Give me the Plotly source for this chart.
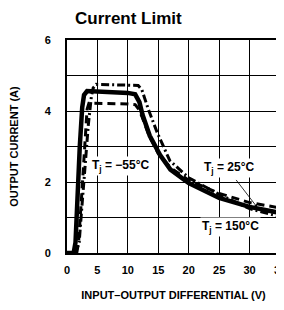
import plotly.graph_objects as go

# Tj curves (V, A)
solid_x = [0, 1.1, 1.4, 1.7, 2.1, 2.5, 2.8, 3.3, 5, 8, 10, 11.2, 11.9, 12.4, 13.6, 15.3, 17, 20, 25, 30, 35]
solid_y = [0, 0, 0.3, 1.6, 3.0, 4.1, 4.45, 4.56, 4.55, 4.53, 4.51, 4.47, 4.25, 3.9, 3.3, 2.76, 2.35, 1.97, 1.55, 1.3, 1.13]

dash_x = [1.6, 1.9, 2.4, 2.9, 3.3, 3.6, 5, 8, 10, 11.2, 11.8, 12.3, 13.5, 15, 17, 20, 25, 30, 35]
dash_y = [0, 0.3, 1.6, 3.1, 4.05, 4.22, 4.22, 4.21, 4.2, 4.18, 4.05, 3.85, 3.3, 2.8, 2.4, 2.05, 1.68, 1.42, 1.27]

dashdot_x = [1.4, 2.0, 2.4, 2.9, 3.5, 4.0, 4.3, 4.8, 8, 10, 11.7, 12.3, 12.8, 13.3, 14.8, 16.9, 20, 25, 30, 35]
dashdot_y = [0, 0.3, 1.2, 2.4, 3.6, 4.4, 4.65, 4.75, 4.74, 4.73, 4.72, 4.6, 4.35, 4.08, 3.4, 2.6, 2.12, 1.65, 1.25, 1.02]

x_ticks = [0, 5, 10, 15, 20, 25, 30, 35]
y_ticks = [0, 2, 4, 6]

FONT = "Liberation Sans"

fig = go.Figure()
fig.add_trace(go.Scatter(x=dash_x, y=dash_y, mode="lines",
                         line=dict(color="black", width=3, dash="8px,5px"), hoverinfo="skip"))
fig.add_trace(go.Scatter(x=dashdot_x, y=dashdot_y, mode="lines",
                         line=dict(color="black", width=3, dash="8px,3px,2px,3px"), hoverinfo="skip"))
fig.add_trace(go.Scatter(x=solid_x, y=solid_y, mode="lines",
                         line=dict(color="black", width=4.5), hoverinfo="skip"))

fig.update_layout(
    width=276, height=302,
    margin=dict(l=59, r=4, t=32, b=57),
    paper_bgcolor="white", plot_bgcolor="white",
    showlegend=False,
    font=dict(family=FONT, color="black", size=11),
)
fig.update_xaxes(range=[0, 35], tickvals=x_ticks, ticktext=[str(v) for v in x_ticks],
                 showgrid=True, gridcolor="black", gridwidth=1,
                 showline=True, linecolor="black", linewidth=2, mirror=True,
                 ticks="", zeroline=False, automargin=False, ticklabeloverflow="allow",
                 tickfont=dict(family=FONT, size=11, color="black", weight="bold"),
                 ticklabelstandoff=6,
                 title=dict(text="INPUT\u2013OUTPUT DIFFERENTIAL (V)", standoff=16,
                            font=dict(family=FONT, size=11, color="black", weight="bold")))
fig.update_yaxes(range=[0, 6], tickvals=[0, 1, 2, 3, 4, 5, 6],
                 ticktext=["0", "", "2", "", "4", "", "6"],
                 showgrid=True, gridcolor="black", gridwidth=1,
                 showline=True, linecolor="black", linewidth=2, mirror=True,
                 ticks="", zeroline=False, automargin=False,
                 tickfont=dict(family=FONT, size=11, color="black", weight="bold"),
                 ticklabelstandoff=12,
                 title=dict(text="OUTPUT CURRENT (A)", standoff=24,
                            font=dict(family=FONT, size=11, color="black", weight="bold")))

fig.add_annotation(text="Current Limit", xref="paper", yref="paper", x=0.29, y=1.0,
                   xanchor="center", yanchor="middle", yshift=22, showarrow=False,
                   font=dict(family=FONT, size=17, color="black", weight="bold"))

lab = dict(family=FONT, size=12, color="black", weight="bold")
fig.add_annotation(text="T<sub>j</sub> = \u221255\u00b0C", x=8.8, y=2.45, showarrow=False, font=lab,
                   bgcolor="white")
fig.add_annotation(text="T<sub>j</sub> = 25\u00b0C", x=26.6, y=2.4, showarrow=False, font=lab,
                   bgcolor="white")
fig.add_annotation(text="T<sub>j</sub> = 150\u00b0C", x=26.8, y=0.72, showarrow=False, font=lab,
                   bgcolor="white")
fig.add_annotation(x=31.2, y=1.3, ax=27.6, ay=2.1, xref="x", yref="y", axref="x", ayref="y",
                   text="", showarrow=True, arrowhead=1, arrowsize=1, arrowwidth=0.8,
                   arrowcolor="black")

fig.write_html("out.html")
